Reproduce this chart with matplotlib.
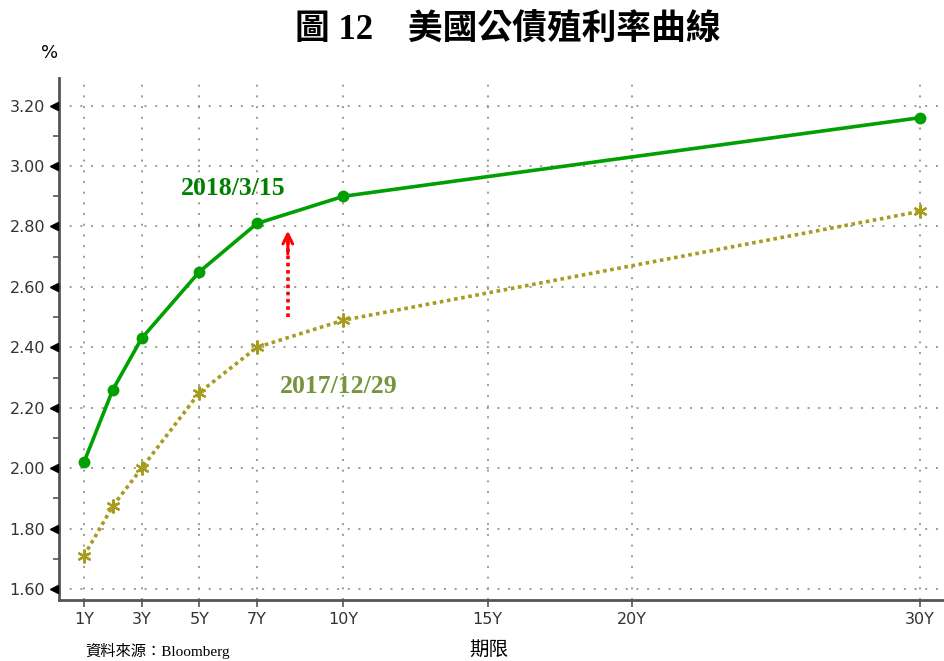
import numpy as np
import matplotlib
matplotlib.use("Agg")
import matplotlib.pyplot as plt
from matplotlib.ticker import MultipleLocator

# Data
tenors = [1, 2, 3, 5, 7, 10, 30]               # years
y_2018 = [2.02, 2.26, 2.43, 2.65, 2.81, 2.90, 3.16]
y_2017 = [1.71, 1.875, 2.00, 2.25, 2.40, 2.49, 2.85]
xticks = [1, 3, 5, 7, 10, 15, 20, 30]
xtick_labels = ['1Y', '3Y', '5Y', '7Y', '10Y', '15Y', '20Y', '30Y']
yticks = [1.60, 1.80, 2.00, 2.20, 2.40, 2.60, 2.80, 3.00, 3.20]

tick_font = ['DejaVu Sans']
cjk = ['Liberation Serif', 'Noto Sans CJK TC', 'DejaVu Sans']

fig = plt.figure(figsize=(9.44, 6.61), dpi=100)
ax = fig.add_axes([0.0625, 0.0923, 0.9375, 0.79])

ax.set_xlim(0.133, 30.83)
ax.set_ylim(1.564, 3.292)

# grid
for v in yticks:
    ax.axhline(v, color='#999999', lw=1.4, ls=(0, (1, 4.5)), zorder=1)
for v in xticks:
    ax.axvline(v, color='#999999', lw=1.4, ls=(0, (1, 4.5)), zorder=1)

ax.plot(tenors, y_2018, color='#00a000', lw=2.6, marker='o', ms=7.5, zorder=4)
ax.plot(tenors, y_2017, color='#a89c1e', lw=2.6, ls=(0, (1, 1)),
        marker=(6, 2, 0), ms=10, mew=1.6, zorder=3)

# red arrow
ax.plot([8.07, 8.07], [2.50, 2.755], color='red', lw=2.6, ls=(0, (1, 1)), zorder=5)
ax.annotate('', xy=(8.07, 2.795), xytext=(8.07, 2.70),
            arrowprops=dict(arrowstyle='->,head_width=0.35,head_length=0.7',
                            color='red', lw=2.2), zorder=5)

ax.text(6.17, 2.925, '2018/3/15', color='#008000', fontsize=18.5, fontweight='bold',
        family='Liberation Serif', ha='center', va='center')
ax.text(9.85, 2.27, '2017/12/29', color='#77933c', fontsize=18.5, fontweight='bold',
        family='Liberation Serif', ha='center', va='center')

# spines
for s in ['top', 'right']:
    ax.spines[s].set_visible(False)
ax.spines['left'].set_color('#555555')
ax.spines['bottom'].set_color('#555555')
ax.spines['left'].set_linewidth(2)
ax.spines['bottom'].set_linewidth(2)

ax.set_xticks(xticks)
ax.set_xticklabels(xtick_labels, family=tick_font, fontsize=11.5, color='#333333')
ax.set_yticks(yticks)
ax.set_yticklabels(['%.2f' % v for v in yticks], family=tick_font, fontsize=11.5,
                   color='#333333')
ax.yaxis.set_minor_locator(MultipleLocator(0.1))
ax.tick_params(axis='y', which='major', length=0, pad=10)
ax.tick_params(axis='y', which='minor', length=4, width=1.2, color='#555555')
ax.tick_params(axis='x', which='major', length=5, width=1.2, color='#555555', pad=4)

# triangle major ticks
trans = ax.get_yaxis_transform()
ax.plot([-0.006] * len(yticks), yticks, marker='<', ls='none', color='black',
        ms=6, transform=trans, clip_on=False, zorder=6)

fig.text(0.538, 0.953, '圖 12　美國公債殖利率曲線', family=cjk, fontsize=25,
         fontweight='bold', ha='center', va='center')
fig.text(0.053, 0.92, '%', family='DejaVu Sans', fontsize=13, ha='center', va='center')
fig.text(0.518, 0.017, '期限', family=['Noto Sans CJK TC'], fontsize=14,
         ha='center', va='center')
fig.text(0.09, 0.003, '資料來源：Bloomberg', family=cjk, fontsize=11,
         ha='left', va='bottom')

fig.savefig('out.png', dpi=100)
